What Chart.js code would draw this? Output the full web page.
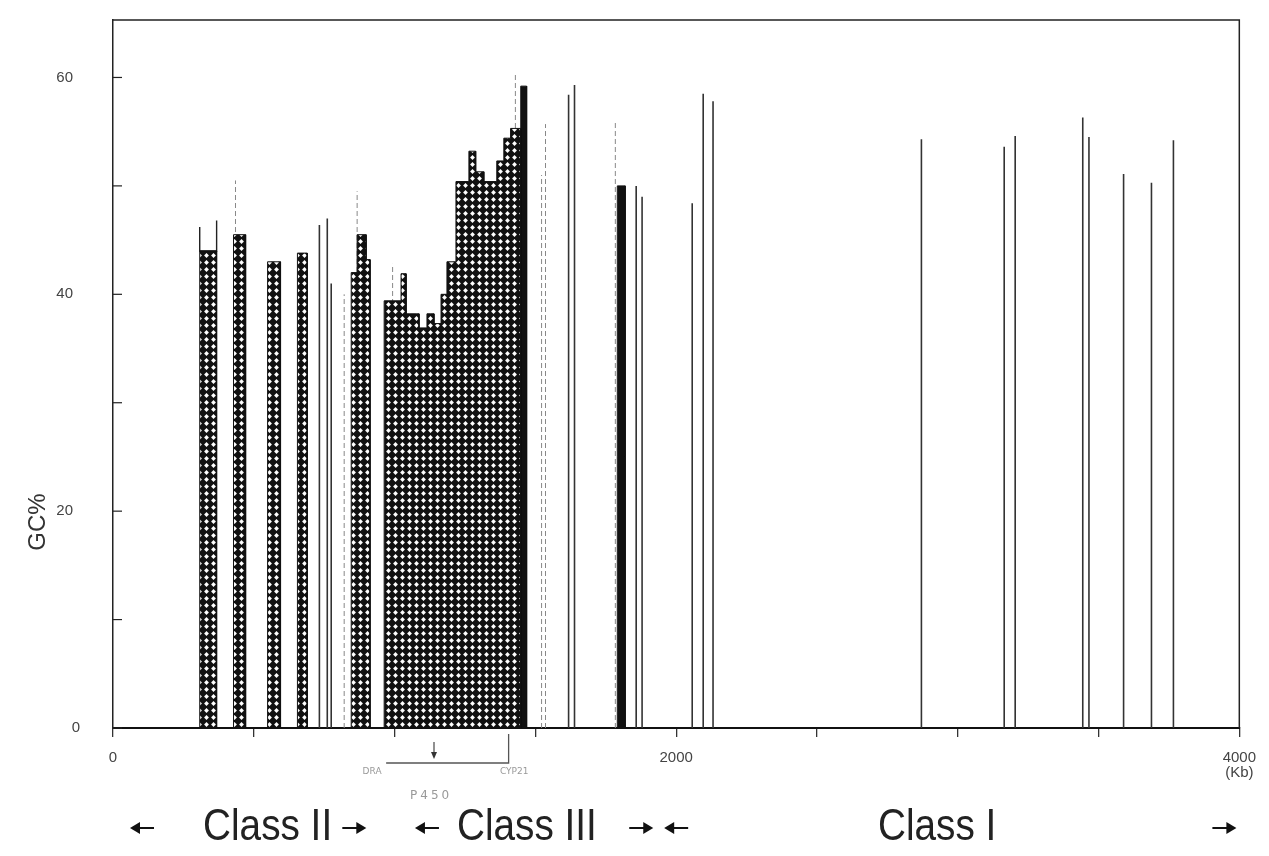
<!DOCTYPE html>
<html>
<head>
<meta charset="utf-8">
<script src="https://cdn.jsdelivr.net/npm/chart.js@4.4.1/dist/chart.umd.min.js"></script>
<style>
html, body { margin: 0; padding: 0; background: #fff; }
#wrap { width: 1269px; height: 856px; }
</style>
</head>
<body>
<div id="wrap"><canvas id="gc" width="1269" height="856"></canvas></div>
<script>
// hatched GC% windows (Kb start, Kb end, GC%)
var blockStart = [308, 428, 549, 655, 846, 867, 899, 963, 1023, 1041, 1087, 1115, 1140, 1165, 1186, 1218, 1264, 1288, 1317, 1363, 1388, 1412];
var blockEnd   = [368, 471, 595, 690, 867, 899, 913, 1023, 1041, 1087, 1115, 1140, 1165, 1186, 1218, 1264, 1288, 1317, 1363, 1388, 1412, 1448];
var blockGC    = [44, 45.5, 43, 43.8, 42, 45.5, 43.2, 39.4, 41.9, 38.2, 36.9, 38.2, 37.3, 40, 43, 50.4, 53.2, 51.3, 50.4, 52.3, 54.4, 55.3];

// solid black windows
var solidStart = [1448, 1791];
var solidEnd   = [1469, 1819];
var solidGC    = [59.2, 50];

// single sequences drawn as lines
var spikeKb = [733, 761, 775, 1618, 1639, 1858, 1879, 2057, 2096, 2131, 2871, 3165, 3204, 3444, 3466, 3589, 3688, 3766];
var spikeGC = [46.4, 47, 41, 58.4, 59.3, 50, 49, 48.4, 58.5, 57.8, 54.3, 53.6, 54.6, 56.3, 54.5, 51.1, 50.3, 54.2];

// faint dashed sequences
var faintKb = [435, 821, 867, 993, 1429, 1522, 1536, 1784];
var faintGC = [50.5, 40, 49.5, 42.8, 60.5, 51, 55.7, 56];

// open bracket over the first window
var capKb = [308, 308, 368, 368];
var capGC = [46.2, 44, 44, 46.8];

// gene marks under the axis
var markKb = [333, 346, 457, 660, 857, 870, 884];

var xLabelKb = [0, 2000, 4000];
var yLabelGC = [0, 20, 40, 60];

var paelFrom = 970, paelTo = 1405, paelArrow = 1140;
var classNames = ['Class II', 'Class III', 'Class I'];
var classKb = [549, 1470, 2927];
var leftArrowKb = [103, 1115, 2000];
var rightArrowKb = [857, 1876, 3947];

function hatch() {
    var c = document.createElement('canvas');
    c.width = 7; c.height = 7;
    var g = c.getContext('2d');
    g.fillStyle = '#111';
    g.fillRect(0, 0, 7, 7);
    g.fillStyle = '#fff';
    g.beginPath();
    g.moveTo(3.5, 1.1); g.lineTo(5.9, 3.5); g.lineTo(3.5, 5.9); g.lineTo(1.1, 3.5);
    g.closePath(); g.fill();
    return g.createPattern(c, 'repeat');
}
var pattern = hatch();

function stepGroups(starts, ends, vals) {
    var groups = [], cur = null;
    for (var i = 0; i < starts.length; i++) {
        if (!cur || starts[i] != ends[i - 1]) {
            if (cur) cur.push({x: ends[i - 1], y: 0});
            cur = [{x: starts[i], y: 0}];
            groups.push(cur);
        }
        cur.push({x: starts[i], y: vals[i]});
        cur.push({x: ends[i], y: vals[i]});
    }
    if (cur) cur.push({x: ends[ends.length - 1], y: 0});
    return groups;
}

function sticks(xs, ys) {
    var pts = [];
    for (var i = 0; i < xs.length; i++) {
        pts.push({x: xs[i], y: 0}, {x: xs[i], y: ys[i]}, {x: xs[i], y: null});
    }
    return pts;
}

var datasets = [];
stepGroups(blockStart, blockEnd, blockGC).forEach(function (g) {
    datasets.push({data: g, fill: 'origin', backgroundColor: pattern, borderColor: '#111', borderWidth: 1});
});
stepGroups(solidStart, solidEnd, solidGC).forEach(function (g) {
    datasets.push({data: g, fill: 'origin', backgroundColor: '#111', borderColor: '#111', borderWidth: 1});
});
datasets.push({data: sticks(spikeKb, spikeGC), borderColor: '#333', borderWidth: 1.6, spanGaps: false, fill: false});
datasets.push({data: sticks(faintKb, faintGC), borderColor: '#888', borderWidth: 1, borderDash: [5, 3], spanGaps: false, fill: false});
datasets.push({data: capKb.map(function (k, i) { return {x: k, y: capGC[i]}; }), borderColor: '#222', borderWidth: 1.4, fill: false});
datasets.push({type: 'scatter', data: markKb.map(function (k) { return {x: k, y: -0.8}; }), pointStyle: 'rect', pointRadius: 1, backgroundColor: '#333', borderWidth: 0, clip: false});

var extras = {
    id: 'extras',
    afterDraw: function (chart) {
        var ctx = chart.ctx, a = chart.chartArea, xs = chart.scales.x, ys = chart.scales.y;
        ctx.save();
        // frame
        ctx.strokeStyle = '#222';
        ctx.lineWidth = 1.5;
        ctx.beginPath();
        ctx.moveTo(a.left, a.top); ctx.lineTo(a.right, a.top); ctx.lineTo(a.right, a.bottom);
        ctx.stroke();
        // inner y ticks and their labels
        ctx.lineWidth = 1.2;
        ctx.fillStyle = '#444';
        ctx.font = '15px "Liberation Sans"';
        ctx.textAlign = 'right';
        ctx.textBaseline = 'middle';
        ys.ticks.forEach(function (t) {
            var y = ys.getPixelForValue(t.value);
            ctx.beginPath(); ctx.moveTo(a.left, y); ctx.lineTo(a.left + 9, y); ctx.stroke();
            if (yLabelGC.indexOf(t.value) >= 0) ctx.fillText(String(t.value), t.value == 0 ? 80 : 73, y);
        });
        // axis title
        ctx.fillStyle = '#333';
        ctx.font = '24px "Liberation Sans"';
        ctx.textAlign = 'center';
        ctx.save();
        ctx.translate(38, ys.getPixelForValue(19));
        ctx.rotate(-Math.PI / 2);
        ctx.fillText('GC%', 0, 0);
        ctx.restore();
        // PAEL bracket
        var b = a.bottom;
        var x1 = xs.getPixelForValue(paelFrom), x2 = xs.getPixelForValue(paelTo), xa = xs.getPixelForValue(paelArrow);
        ctx.strokeStyle = '#555';
        ctx.lineWidth = 1.3;
        ctx.beginPath();
        ctx.moveTo(x1, b + 35); ctx.lineTo(x2, b + 35); ctx.lineTo(x2, b + 6);
        ctx.stroke();
        ctx.beginPath(); ctx.moveTo(xa, b + 14); ctx.lineTo(xa, b + 27); ctx.stroke();
        ctx.fillStyle = '#333';
        ctx.beginPath(); ctx.moveTo(xa - 3, b + 24); ctx.lineTo(xa + 3, b + 24); ctx.lineTo(xa, b + 31); ctx.closePath(); ctx.fill();
        ctx.fillStyle = '#999';
        ctx.font = '9px "DejaVu Sans"';
        ctx.fillText('DRA', xs.getPixelForValue(920), b + 44);
        ctx.fillText('CYP21', xs.getPixelForValue(1425), b + 44);
        ctx.font = '12px "DejaVu Sans"';
        ctx.letterSpacing = '3px';
        ctx.fillText('P450', xs.getPixelForValue(1130), b + 68);
        ctx.letterSpacing = '0px';
        // class labels
        var ly = 828;
        ctx.fillStyle = '#222';
        ctx.font = '44px "Liberation Sans"';
        classNames.forEach(function (n, i) {
            ctx.save();
            ctx.translate(xs.getPixelForValue(classKb[i]), ly);
            ctx.scale(0.88, 1);
            ctx.fillText(n, 0, 0);
            ctx.restore();
        });
        ctx.strokeStyle = '#111';
        ctx.fillStyle = '#111';
        ctx.lineWidth = 2;
        function arrow(x, dir) {
            ctx.beginPath(); ctx.moveTo(x - 12 * dir, ly); ctx.lineTo(x + 4 * dir, ly); ctx.stroke();
            ctx.beginPath(); ctx.moveTo(x + 12 * dir, ly); ctx.lineTo(x + 2 * dir, ly - 6); ctx.lineTo(x + 2 * dir, ly + 6); ctx.closePath(); ctx.fill();
        }
        leftArrowKb.forEach(function (k) { arrow(xs.getPixelForValue(k), -1); });
        rightArrowKb.forEach(function (k) { arrow(xs.getPixelForValue(k), 1); });
        ctx.restore();
    }
};

new Chart(document.getElementById('gc'), {
    type: 'line',
    data: {datasets: datasets},
    options: {
        responsive: false,
        animation: false,
        devicePixelRatio: 1,
        elements: {point: {radius: 0}, line: {tension: 0}},
        layout: {padding: {top: 20, right: 26, left: 0, bottom: 0}},
        plugins: {legend: {display: false}, tooltip: {enabled: false}},
        scales: {
            x: {
                type: 'linear', min: 0, max: 4000,
                afterFit: function (s) { s.height = 128; },
                border: {display: true, color: '#111', width: 2},
                grid: {display: true, drawOnChartArea: false, drawTicks: true, tickLength: 9, color: '#333', lineWidth: 1.3},
                ticks: {
                    stepSize: 500, autoSkip: false, maxRotation: 0, padding: 13,
                    color: '#444', font: {family: 'Liberation Sans', size: 15, lineHeight: 1.0},
                    callback: function (v) {
                        if (xLabelKb.indexOf(v) < 0) return '';
                        return v == 4000 ? ['4000', '(Kb)'] : String(v);
                    }
                }
            },
            y: {
                min: 0, max: 65.3,
                afterFit: function (s) { s.width = 113; },
                afterBuildTicks: function (s) { s.ticks = s.ticks.filter(function (t) { return t.value % 10 == 0; }); },
                border: {display: true, color: '#222', width: 1.5},
                grid: {display: false, drawTicks: false},
                ticks: {stepSize: 10, display: false}
            }
        }
    },
    plugins: [extras]
});
</script>
</body>
</html>
